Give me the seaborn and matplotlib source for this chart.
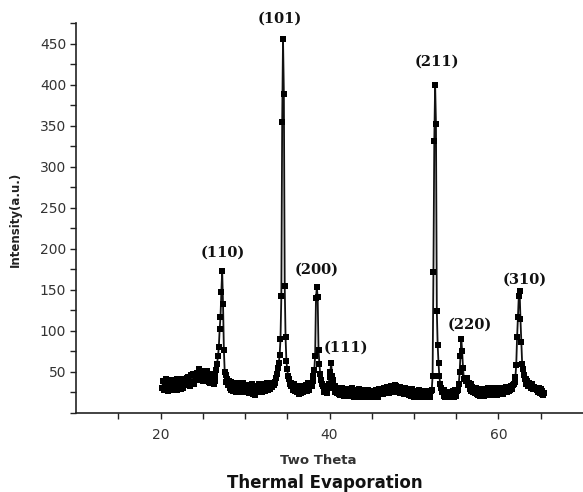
import numpy as np
import pandas as pd
import matplotlib
matplotlib.use("Agg")
import matplotlib.pyplot as plt
import seaborn as sns

# ---- data ----
two_theta_start = 20.2
two_theta_step = 0.1
intensity = [
    30, 39, 28, 36, 41, 29, 35, 27, 38, 32,      # 20.2 - 21.1
    37, 28, 40, 33, 29, 38, 31, 41, 28, 36,      # 21.2 - 22.1
    33, 40, 29, 37, 42, 30, 36, 41, 34, 43,      # 22.2 - 23.1
    36, 44, 35, 33, 46, 38, 48, 37, 35, 46,      # 23.2 - 24.1
    40, 49, 41, 50, 54, 44, 40, 51, 39, 47,      # 24.2 - 25.1
    41, 50, 42, 51, 44, 38, 48, 37, 44, 36,      # 25.2 - 26.1
    42, 35, 39, 46, 52, 60, 69, 80, 102, 117,    # 26.2 - 27.1
    147, 173, 133, 77, 50, 46, 38, 41, 34, 39,   # 27.2 - 28.1
    31, 38, 28, 36, 27, 37, 30, 26, 35, 29,      # 28.2 - 29.1
    36, 27, 33, 25, 35, 29, 37, 26, 34, 28,      # 29.2 - 30.1
    26, 34, 28, 24, 33, 27, 35, 23, 31, 26,      # 30.2 - 31.1
    22, 31, 33, 25, 32, 35, 27, 34, 26, 33,      # 31.2 - 32.1
    28, 35, 27, 33, 36, 28, 34, 37, 29, 35,      # 32.2 - 33.1
    32, 36, 34, 38, 37, 43, 47, 55, 61, 71,      # 33.2 - 34.1
    90, 142, 355, 455, 389, 155, 92, 63, 53, 45, # 34.2 - 35.1
    41, 35, 37, 33, 34, 28, 35, 27, 33, 26,      # 35.2 - 36.1
    31, 25, 23, 30, 24, 29, 33, 25, 32, 27,      # 36.2 - 37.1
    34, 27, 32, 36, 28, 35, 37, 33, 39, 45,      # 37.2 - 38.1
    52, 70, 140, 153, 141, 77, 60, 48, 40, 35,   # 38.2 - 39.1
    33, 26, 31, 25, 30, 24, 31, 35, 44, 50,      # 39.2 - 40.1
    61, 45, 40, 31, 33, 25, 30, 24, 29, 23,      # 40.2 - 41.1
    28, 22, 27, 30, 23, 21, 29, 24, 22, 28,      # 41.2 - 42.1
    23, 29, 21, 27, 22, 30, 24, 20, 28, 23,      # 42.2 - 43.1
    21, 28, 23, 29, 20, 27, 22, 28, 23, 19,      # 43.2 - 44.1
    26, 20, 27, 22, 28, 19, 26, 21, 27, 22,      # 44.2 - 45.1
    20, 27, 22, 28, 23, 20, 29, 23, 28, 24,      # 45.2 - 46.1
    29, 23, 30, 25, 31, 26, 32, 27, 24, 31,      # 46.2 - 47.1
    26, 33, 25, 32, 28, 34, 27, 33, 29, 25,      # 47.2 - 48.1
    31, 24, 32, 27, 25, 31, 23, 30, 25, 28,      # 48.2 - 49.1
    23, 29, 22, 28, 21, 27, 29, 22, 20, 27,      # 49.2 - 50.1
    21, 27, 20, 26, 28, 21, 19, 26, 20, 27,      # 50.2 - 51.1
    21, 19, 26, 20, 27, 22, 25, 20, 27, 28,      # 51.2 - 52.1
    45, 172, 331, 400, 352, 124, 83, 61, 45, 35, # 52.2 - 53.1
    31, 25, 27, 21, 28, 20, 26, 19, 25, 23,      # 53.2 - 54.1
    20, 26, 19, 25, 27, 20, 26, 28, 21, 27,      # 54.2 - 55.1
    28, 35, 50, 70, 90, 75, 55, 42, 43, 40,      # 55.2 - 56.1
    39, 43, 34, 36, 29, 35, 27, 32, 25, 30,      # 56.2 - 57.1
    24, 30, 23, 29, 22, 28, 21, 29, 23, 26,      # 57.2 - 58.1
    28, 21, 27, 29, 22, 28, 30, 23, 29, 22,      # 58.2 - 59.1
    28, 30, 23, 29, 31, 24, 22, 29, 23, 30,      # 59.2 - 60.1
    24, 30, 25, 23, 31, 25, 30, 32, 26, 31,      # 60.2 - 61.1
    27, 32, 28, 33, 29, 34, 35, 38, 44, 59,      # 61.2 - 62.1
    92, 117, 142, 148, 114, 87, 60, 53, 46, 42,  # 62.2 - 63.1
    41, 35, 39, 33, 36, 34, 35, 30, 35, 29,      # 63.2 - 64.1
    32, 29, 31, 28, 30, 25, 30, 24, 29, 23,      # 64.2 - 65.1
    27, 22, 24,                                   # 65.2 - 65.4
]
two_theta = np.round(two_theta_start + two_theta_step * np.arange(len(intensity)), 2)

peak_labels = ["(110)", "(101)", "(200)", "(111)", "(211)", "(220)", "(310)"]
label_x = [27.4, 34.1, 38.5, 41.9, 52.7, 56.6, 63.1]
label_y = [195, 480, 174, 80, 428, 107, 163]

x_ticks = [15, 20, 25, 30, 35, 40, 45, 50, 55, 60, 65]
x_tick_labels = ["", "20", "", "", "", "40", "", "", "", "60", ""]
y_ticks = list(range(0, 476, 25))
y_tick_labels = [str(v) if (v % 50 == 0 and v > 0) else "" for v in y_ticks]

df = pd.DataFrame({"two_theta": two_theta, "intensity": intensity})

# ---- figure ----
sns.set_style("ticks")
plt.rcParams["font.family"] = ["DejaVu Sans"]

W, H = 583, 492
fig = plt.figure(figsize=(W / 100, H / 100), dpi=100)
ax = fig.add_axes([76 / W, (H - 413) / H, 507 / W, 390 / H])

sns.lineplot(data=df, x="two_theta", y="intensity", ax=ax, color="#111111",
             linewidth=1.3, marker="s", markersize=4, markeredgewidth=0,
             markerfacecolor="black", estimator=None, sort=False)

ax.set_xlim(10, 70)
ax.set_ylim(0, 475)
ax.set_xticks(x_ticks)
ax.set_xticklabels(x_tick_labels)
ax.set_yticks(y_ticks)
ax.set_yticklabels(y_tick_labels)
ax.tick_params(axis="both", direction="out", length=4, width=1, colors="#222222",
               labelsize=10, labelcolor="#333333")
ax.tick_params(axis="x", pad=7)
ax.tick_params(axis="y", pad=3)
for side in ["top", "right"]:
    ax.spines[side].set_visible(False)
for side in ["left", "bottom"]:
    ax.spines[side].set_color("#222222")
    ax.spines[side].set_linewidth(1.2)
ax.set_xlabel("")
ax.set_ylabel("")

for lab, lx, ly in zip(peak_labels, label_x, label_y):
    ax.text(lx, ly, lab, ha="center", va="center", fontsize=10.5,
            fontweight="bold", family=["DejaVu Serif"], color="#111111", clip_on=False)

fig.text(15 / W, 1 - 219 / H, "Intensity(a.u.)", rotation=90, ha="center", va="center",
         fontsize=8.5, fontweight="bold", color="#222222")
fig.text(318 / W, 1 - 460 / H, "Two Theta", ha="center", va="center",
         fontsize=9.5, fontweight="bold", color="#333333")
fig.text(325 / W, 1 - 483 / H, "Thermal Evaporation", ha="center", va="center",
         fontsize=12, fontweight="bold", color="#111111")

fig.savefig("out.png", dpi=100)
